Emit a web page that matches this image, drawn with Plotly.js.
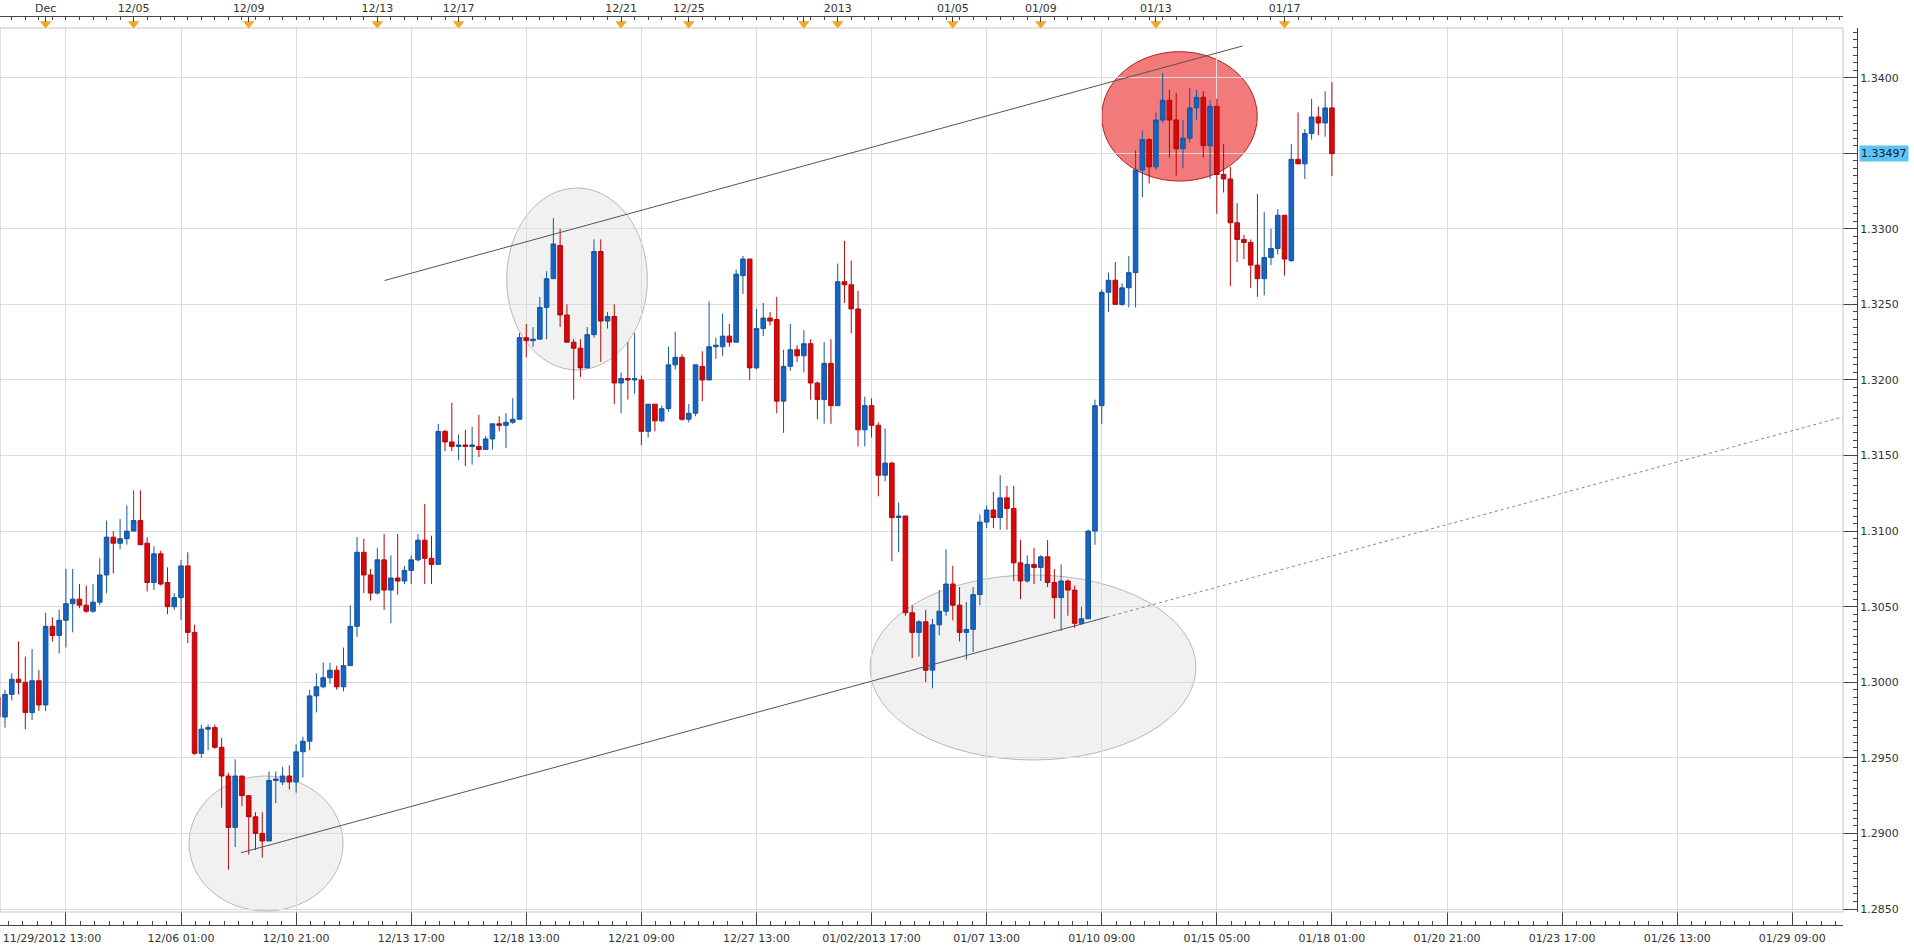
<!DOCTYPE html>
<html>
<head>
<meta charset="utf-8">
<script src="https://cdn.plot.ly/plotly-3.0.1.min.js"></script>
<style>
html,body{margin:0;padding:0;background:#fff;}
#chart{width:1914px;height:950px;}
</style>
</head>
<body>
<div id="chart"></div>
<script>
// ---- Data: 4-hour EUR/USD candles (bar index order) ----
const open = [1.2990,1.2977,1.2992,1.3002,1.3000,1.2980,1.3001,1.2985,1.3037,1.3031,
1.3041,1.3052,1.3055,1.3051,1.3047,1.3053,1.3071,1.3096,1.3092,1.3095,
1.3100,1.3107,1.3092,1.3066,1.3085,1.3066,1.3050,1.3056,1.3077,1.3033,
1.2953,1.2969,1.2970,1.2957,1.2938,1.2904,1.2938,1.2925,1.2911,1.2900,
1.2895,1.2935,1.2934,1.2938,1.2934,1.2954,1.2961,1.2991,1.2997,1.3003,
1.3008,1.2997,1.3011,1.3037,1.3086,1.3071,1.3059,1.3081,1.3061,1.3069,
1.3067,1.3074,1.3081,1.3094,1.3082,1.3078,1.3166,1.3159,1.3156,1.3157,
1.3156,1.3156,1.3154,1.3161,1.3171,1.3170,1.3172,1.3174,1.3228,1.3226,
1.3227,1.3248,1.3267,1.3289,1.3243,1.3225,1.3221,1.3208,1.3230,1.3285,
1.3239,1.3242,1.3198,1.3201,1.3200,1.3200,1.3166,1.3184,1.3173,1.3181,
1.3210,1.3215,1.3174,1.3178,1.3209,1.3200,1.3222,1.3222,1.3229,1.3225,
1.3269,1.3280,1.3208,1.3234,1.3241,1.3240,1.3186,1.3209,1.3220,1.3216,
1.3224,1.3198,1.3187,1.3211,1.3183,1.3265,1.3263,1.3247,1.3167,1.3183,
1.3170,1.3137,1.3145,1.3109,1.3110,1.3046,1.3033,1.3040,1.3008,1.3038,
1.3047,1.3065,1.3051,1.3033,1.3035,1.3058,1.3106,1.3114,1.3109,1.3122,
1.3115,1.3079,1.3067,1.3078,1.3076,1.3083,1.3066,1.3056,1.3067,1.3061,
1.3039,1.3042,1.3100,1.3183,1.3258,1.3266,1.3250,1.3261,1.3271,1.3339,
1.3359,1.3341,1.3372,1.3385,1.3372,1.3353,1.3360,1.3380,1.3387,1.3355,
1.3381,1.3336,1.3333,1.3304,1.3293,1.3291,1.3276,1.3267,1.3281,1.3287,
1.3309,1.3279,1.3346,1.3343,1.3363,1.3374,1.3370,1.3380];
const high = [1.2993,1.2995,1.3006,1.3027,1.3017,1.3022,1.3008,1.3046,1.3043,1.3048,
1.3075,1.3075,1.3065,1.3064,1.3065,1.3082,1.3107,1.3100,1.3108,1.3117,
1.3127,1.3127,1.3096,1.3090,1.3087,1.3076,1.3059,1.3081,1.3086,1.3038,
1.2972,1.2972,1.2972,1.2963,1.2940,1.2949,1.2938,1.2925,1.2914,1.2914,
1.2941,1.2941,1.2944,1.2945,1.2959,1.2964,1.2995,1.3006,1.3013,1.3013,
1.3011,1.3023,1.3051,1.3096,1.3095,1.3075,1.3089,1.3098,1.3084,1.3098,
1.3077,1.3084,1.3098,1.3118,1.3097,1.3171,1.3167,1.3185,1.3164,1.3167,
1.3169,1.3177,1.3163,1.3171,1.3176,1.3178,1.3188,1.3231,1.3237,1.3235,
1.3255,1.3272,1.3307,1.3300,1.3250,1.3227,1.3227,1.3235,1.3293,1.3293,
1.3245,1.3250,1.3205,1.3225,1.3231,1.3203,1.3184,1.3184,1.3183,1.3222,
1.3232,1.3217,1.3184,1.3210,1.3219,1.3252,1.3228,1.3244,1.3237,1.3273,
1.3282,1.3280,1.3247,1.3251,1.3245,1.3255,1.3220,1.3237,1.3223,1.3233,
1.3227,1.3199,1.3225,1.3227,1.3277,1.3292,1.3279,1.3259,1.3189,1.3188,
1.3172,1.3168,1.3146,1.3119,1.3110,1.3051,1.3041,1.3048,1.3042,1.3061,
1.3088,1.3077,1.3063,1.3053,1.3063,1.3111,1.3117,1.3126,1.3137,1.3130,
1.3130,1.3094,1.3084,1.3089,1.3084,1.3094,1.3075,1.3078,1.3068,1.3064,
1.3050,1.3101,1.3187,1.3260,1.3271,1.3278,1.3264,1.3282,1.3352,1.3365,
1.3360,1.3377,1.3403,1.3392,1.3390,1.3372,1.3393,1.3392,1.3391,1.3385,
1.3386,1.3356,1.3341,1.3317,1.3296,1.3293,1.3323,1.3311,1.3300,1.3313,
1.3309,1.3356,1.3377,1.3366,1.3386,1.3381,1.3391,1.3397];
const low = [1.2969,1.2970,1.2988,1.2992,1.2969,1.2975,1.2981,1.2981,1.3027,1.3019,
1.3023,1.3033,1.3049,1.3046,1.3046,1.3051,1.3059,1.3072,1.3088,1.3091,
1.3100,1.3091,1.3060,1.3061,1.3064,1.3045,1.3048,1.3041,1.3026,1.2952,
1.2950,1.2955,1.2956,1.2917,1.2876,1.2891,1.2918,1.2886,1.2889,1.2884,
1.2895,1.2920,1.2932,1.2929,1.2927,1.2937,1.2955,1.2980,1.2996,1.2999,
1.2995,1.2994,1.3011,1.3030,1.3059,1.3054,1.3058,1.3048,1.3039,1.3058,
1.3065,1.3065,1.3080,1.3065,1.3065,1.3078,1.3153,1.3153,1.3147,1.3143,
1.3144,1.3149,1.3154,1.3154,1.3166,1.3155,1.3171,1.3174,1.3215,1.3222,
1.3227,1.3227,1.3267,1.3235,1.3225,1.3187,1.3202,1.3208,1.3228,1.3212,
1.3234,1.3184,1.3178,1.3187,1.3191,1.3157,1.3162,1.3166,1.3172,1.3179,
1.3207,1.3173,1.3172,1.3176,1.3186,1.3200,1.3214,1.3216,1.3222,1.3225,
1.3257,1.3200,1.3207,1.3229,1.3236,1.3178,1.3165,1.3206,1.3212,1.3205,
1.3187,1.3174,1.3171,1.3171,1.3183,1.3251,1.3231,1.3156,1.3156,1.3162,
1.3123,1.3133,1.3080,1.3086,1.3044,1.3016,1.3017,1.3000,1.2996,1.3031,
1.3044,1.3041,1.3027,1.3015,1.3020,1.3051,1.3102,1.3102,1.3101,1.3101,
1.3067,1.3055,1.3066,1.3065,1.3067,1.3063,1.3042,1.3034,1.3044,1.3036,
1.3038,1.3042,1.3091,1.3171,1.3245,1.3250,1.3249,1.3248,1.3248,1.3321,
1.3330,1.3339,1.3370,1.3347,1.3335,1.3340,1.3357,1.3372,1.3347,1.3333,
1.3310,1.3324,1.3262,1.3278,1.3280,1.3261,1.3255,1.3256,1.3276,1.3283,
1.3269,1.3278,1.3343,1.3333,1.3359,1.3362,1.3361,1.3335];
const close = [1.2977,1.2992,1.3002,1.3000,1.2980,1.3001,1.2985,1.3037,1.3031,1.3041,
1.3052,1.3055,1.3051,1.3047,1.3053,1.3071,1.3096,1.3092,1.3095,1.3100,
1.3107,1.3091,1.3066,1.3085,1.3065,1.3050,1.3056,1.3077,1.3033,1.2953,
1.2969,1.2970,1.2957,1.2938,1.2904,1.2938,1.2925,1.2911,1.2900,1.2895,
1.2935,1.2936,1.2938,1.2934,1.2954,1.2961,1.2991,1.2997,1.3003,1.3008,
1.2997,1.3011,1.3037,1.3086,1.3071,1.3059,1.3081,1.3061,1.3069,1.3067,
1.3074,1.3081,1.3094,1.3082,1.3078,1.3166,1.3159,1.3156,1.3157,1.3156,
1.3157,1.3154,1.3161,1.3171,1.3170,1.3172,1.3174,1.3228,1.3226,1.3227,
1.3248,1.3267,1.3290,1.3243,1.3225,1.3221,1.3208,1.3230,1.3285,1.3239,
1.3242,1.3198,1.3201,1.3200,1.3201,1.3166,1.3184,1.3173,1.3181,1.3210,
1.3215,1.3174,1.3178,1.3210,1.3200,1.3222,1.3223,1.3229,1.3225,1.3270,
1.3280,1.3208,1.3234,1.3241,1.3239,1.3186,1.3209,1.3220,1.3216,1.3224,
1.3198,1.3187,1.3211,1.3183,1.3265,1.3263,1.3247,1.3167,1.3183,1.3170,
1.3137,1.3145,1.3109,1.3110,1.3046,1.3033,1.3040,1.3008,1.3038,1.3047,
1.3065,1.3051,1.3033,1.3035,1.3058,1.3106,1.3114,1.3109,1.3122,1.3115,
1.3079,1.3067,1.3078,1.3076,1.3083,1.3066,1.3056,1.3067,1.3061,1.3039,
1.3042,1.3100,1.3183,1.3258,1.3266,1.3250,1.3261,1.3271,1.3339,1.3359,
1.3341,1.3372,1.3385,1.3372,1.3353,1.3360,1.3380,1.3387,1.3355,1.3381,
1.3336,1.3333,1.3304,1.3293,1.3291,1.3276,1.3267,1.3281,1.3287,1.3309,
1.3280,1.3346,1.3343,1.3363,1.3374,1.3370,1.3380,1.33497];

// bottom time axis labels (positions in bar index)
const bottomTickPos = [10,27,44,61,78,95,112,129,146,163,180,197,214,231,248,265];
const bottomTickText = ["11/29/2012 13:00\u00a0\u00a0\u00a0\u00a0\u00a0\u00a0\u00a0\u00a0","12/06 01:00","12/10 21:00","12/13 17:00","12/18 13:00",
"12/21 09:00","12/27 13:00","01/02/2013 17:00","01/07 13:00","01/10 09:00","01/15 05:00",
"01/18 01:00","01/20 21:00","01/23 17:00","01/26 13:00","01/29 09:00"];
// top day-marker axis
const topTickPos = [7,20,37,56,68,92,102,119,124,141,154,171,190];
const topTickText = ["Dec","12/05","12/09","12/13","12/17","12/21","12/25","","2013","01/05","01/09","01/13","01/17"];
// price axis
const priceTicks = [1.2850,1.2900,1.2950,1.3000,1.3050,1.3100,1.3150,1.3200,1.3250,1.3300,1.3350,1.3400];
const priceTickText = ["1.2850","1.2900","1.2950","1.3000","1.3050","1.3100","1.3150","1.3200","1.3250","1.3300","","1.3400"];
const lastPrice = 1.33497;

// drawing annotations in data units (bar index, price)
const upperLineX = [57.06, 183.82], upperLineY = [1.32658, 1.34210];
const lowerLineX = [35.86, 163.77, 272.6], lowerLineY = [1.28872, 1.30431, 1.31757];
const ellipsesX = [[28.18, 50.93],[75.11, 95.88],[128.77, 176.92]];
const ellipsesY = [[1.28487, 1.29380],[1.32066, 1.33270],[1.29486, 1.30710]];
const redEllX = [163.0, 185.97], redEllY = [1.33316, 1.34172];

const W = 1914, H = 950;
const plotRight = 1843, plotTop = 28, plotBottom = 912, axisRightX = 1857, bottomAxisY = 925, topAxisY = 17;
const pxPerBar = 6.77, firstBarPx = -1.77;
const xr = [(0 - firstBarPx)/pxPerBar, (plotRight - firstBarPx)/pxPerBar];
const pricePerPx = 1/15115;
const yr = [1.2850 - (plotBottom-909)*pricePerPx, 1.2850 + (909-plotTop)*pricePerPx];

const xs = open.map((_, i) => i);

const candle = {
  type: 'candlestick', x: xs, open: open, high: high, low: low, close: close,
  xaxis: 'x', yaxis: 'y',
  increasing: {fillcolor: '#1763c0', line: {color: '#15569f', width: 1}},
  decreasing: {fillcolor: '#d60a0a', line: {color: '#b40808', width: 1}},
  whiskerwidth: 0, hoverinfo: 'skip', showlegend: false
};
const markers = {
  type: 'scatter', mode: 'markers', x: topTickPos, y: topTickPos.map(() => 0.38),
  xaxis: 'x2', yaxis: 'y2', cliponaxis: false, hoverinfo: 'skip', showlegend: false,
  marker: {symbol: 'triangle-down', size: 10, color: '#f5a623', line: {width: 0}}
};

const shapes = [];
ellipsesX.forEach((ex, k) => {
  shapes.push({type: 'circle', xref: 'x', yref: 'y', x0: ex[0], x1: ex[1], y0: ellipsesY[k][0], y1: ellipsesY[k][1],
    fillcolor: 'rgba(200,200,200,0.25)', line: {color: '#b8b8b8', width: 1}, layer: 'below'});
});
shapes.push({type: 'circle', xref: 'x', yref: 'y', x0: redEllX[0], x1: redEllX[1], y0: redEllY[0], y1: redEllY[1],
  fillcolor: 'rgba(236,40,40,0.62)', line: {color: '#b02020', width: 1}, layer: 'below'});
shapes.push({type: 'line', xref: 'x', yref: 'y', x0: upperLineX[0], x1: upperLineX[1], y0: upperLineY[0], y1: upperLineY[1],
  line: {color: '#555', width: 1}});
shapes.push({type: 'line', xref: 'x', yref: 'y', x0: lowerLineX[0], x1: lowerLineX[1], y0: lowerLineY[0], y1: lowerLineY[1],
  line: {color: '#555', width: 1}});
shapes.push({type: 'line', xref: 'x', yref: 'y', x0: lowerLineX[1], x1: lowerLineX[2], y0: lowerLineY[1], y1: lowerLineY[2],
  line: {color: '#888', width: 1, dash: 'dot'}});
// plot frame
shapes.push({type: 'rect', xref: 'paper', yref: 'paper', x0: 0, x1: plotRight/W, y0: 1 - plotBottom/H, y1: 1 - plotTop/H,
  line: {color: '#c4c4c4', width: 1}, fillcolor: 'rgba(0,0,0,0)', layer: 'above'});

const font = {family: 'DejaVu Sans, Verdana, sans-serif', size: 11, color: '#333'};

const layout = {
  width: W, height: H, margin: {l: 0, r: 0, t: 0, b: 0}, paper_bgcolor: '#fff', plot_bgcolor: '#fff',
  showlegend: false, font: font, boxgap: 0.32, boxgroupgap: 0,
  xaxis: {
    domain: [0, plotRight/W], range: xr, anchor: 'free', position: 1 - bottomAxisY/H,
    tickmode: 'array', tickvals: bottomTickPos, ticktext: bottomTickText,
    ticks: 'inside', ticklen: 13, tickcolor: '#444', tickwidth: 1, ticklabelstandoff: 3,
    showline: true, linecolor: '#444', linewidth: 1,
    showgrid: true, gridcolor: '#dcdcdc', gridwidth: 1, zeroline: false,
    tickfont: font, rangeslider: {visible: false}, fixedrange: true, automargin: false,
    minor: {tickmode: 'linear', tick0: 10, dtick: 17/8, ticks: 'inside', ticklen: 4, tickcolor: '#444', showgrid: false}
  },
  xaxis2: {
    domain: [0, plotRight/W], range: xr, anchor: 'y2', side: 'top',
    tickmode: 'array', tickvals: topTickPos, ticktext: topTickText,
    ticks: 'inside', ticklen: 5, tickcolor: '#444', showline: true, linecolor: '#444',
    showgrid: false, zeroline: false, tickfont: font, fixedrange: true, automargin: false,
    minor: {tickmode: 'linear', tick0: 0, dtick: 2, ticks: 'inside', ticklen: 3, tickcolor: '#444'}
  },
  yaxis: {
    domain: [1 - plotBottom/H, 1 - plotTop/H], range: yr, side: 'right', anchor: 'free', position: axisRightX/W,
    tickmode: 'array', tickvals: priceTicks, ticktext: priceTickText,
    ticks: 'inside', ticklen: 14, tickcolor: '#444', showline: true, linecolor: '#444',
    showgrid: true, gridcolor: '#dcdcdc', zeroline: false, tickfont: font, fixedrange: true, automargin: false,
    minor: {tickmode: 'linear', tick0: 1.2850, dtick: 0.0005, ticks: 'inside', ticklen: 4, tickcolor: '#444', showgrid: false}
  },
  yaxis2: {domain: [1 - plotTop/H, 1 - topAxisY/H], range: [0, 1], anchor: 'x2', visible: false, fixedrange: true},
  shapes: shapes,
  annotations: [{
    xref: 'paper', yref: 'y', x: (axisRightX + 2)/W, y: lastPrice, xanchor: 'left', yanchor: 'middle',
    text: lastPrice.toFixed(5), showarrow: false, bgcolor: '#5cc3f2', borderpad: 1,
    font: {family: 'DejaVu Sans, Verdana, sans-serif', size: 11, color: '#102030'}
  }]
};

Plotly.newPlot('chart', [candle, markers], layout, {staticPlot: true, displayModeBar: false});
</script>
</body>
</html>
